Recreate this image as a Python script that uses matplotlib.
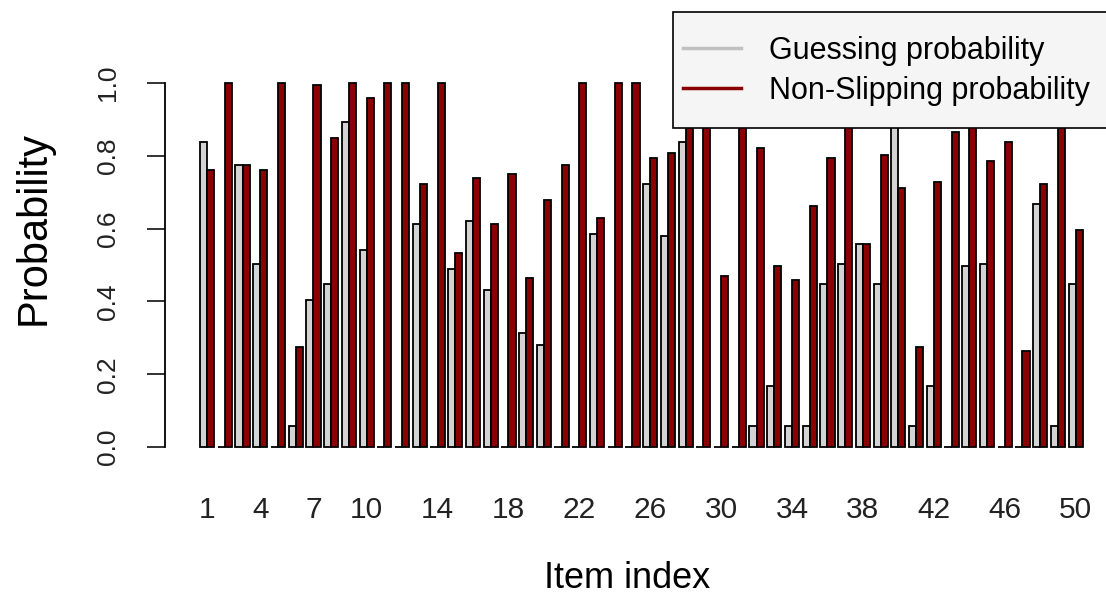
""" Item parameters plot

Guessing and non-slipping probability for each of the 50 items

"""

import numpy as np
from matplotlib import pyplot as plt
from matplotlib.lines import Line2D
from matplotlib.patches import Rectangle

plt.rc('font', family='Liberation Sans')

# Values read per item (1..50)
items = np.arange(1, 51)
guessing = [0.837, 0.0, 0.775, 0.504, 0.0, 0.058, 0.405, 0.449, 0.893, 0.540,
            0.0, 0.0, 0.613, 0.0, 0.488, 0.622, 0.432, 0.0, 0.312, 0.281,
            0.0, 0.0, 0.585, 0.0, 0.0, 0.723, 0.579, 0.837, 0.0, 0.0,
            0.0, 0.058, 0.169, 0.058, 0.058, 0.449, 0.504, 0.557, 0.449, 0.94,
            0.058, 0.169, 0.0, 0.498, 0.504, 0.0, 0.0, 0.668, 0.058, 0.449]
non_slipping = [0.760, 1.0, 0.775, 0.760, 1.0, 0.276, 0.994, 0.848, 1.0, 0.959,
                1.0, 1.0, 0.723, 1.0, 0.534, 0.740, 0.612, 0.750, 0.465, 0.678,
                0.776, 1.0, 0.628, 1.0, 1.0, 0.793, 0.809, 0.93, 1.0, 0.470,
                1.0, 0.820, 0.498, 0.460, 0.663, 0.793, 0.97, 0.557, 0.803, 0.712,
                0.276, 0.729, 0.865, 0.95, 0.787, 0.837, 0.264, 0.723, 1.0, 0.595]
shown_labels = [1, 4, 7, 10, 14, 18, 22, 26, 30, 34, 38, 42, 46, 50]
legend_labels = ['Guessing probability', 'Non-Slipping probability']

W, H = 1106, 597
fig = plt.figure(figsize=(W / 100, H / 100), dpi=100)

# R barplot layout: two bars of width 1 per item, 0.5 space between items
left_px, right_px = 164.7, 1118.0
top_px, bottom_px = 68.4, 461.6
ax = fig.add_axes([left_px / W, 1 - bottom_px / H,
                   (right_px - left_px) / W, (bottom_px - top_px) / H])

group = 0.5 + 2.5 * (items - 1)
ax.bar(group, guessing, width=1.0, align='edge', color='#d3d3d3',
       edgecolor='black', linewidth=1.3)
ax.bar(group + 1.0, non_slipping, width=1.0, align='edge', color='#8b0000',
       edgecolor='black', linewidth=1.3)

ax.set_xlim(-4.48, 129.98)
ax.set_ylim(-0.04, 1.04)

for side in ['top', 'right', 'bottom']:
    ax.spines[side].set_visible(False)
ax.spines['left'].set_bounds(0, 1)
ax.spines['left'].set_linewidth(1.3)

ax.set_yticks(np.arange(0, 1.01, 0.2))
ax.set_yticklabels(['%.1f' % v for v in np.arange(0, 1.01, 0.2)],
                   rotation=90, va='center')
ax.tick_params(axis='y', length=13, width=1.3, pad=19, labelsize=19,
               colors='#222222', labelcolor='#222222')

ax.set_xticks(group[np.array(shown_labels) - 1] + 1.0)
ax.set_xticklabels([str(v) for v in shown_labels])
ax.tick_params(axis='x', length=0, pad=24.5, labelsize=21.5,
               labelcolor='#222222')

fig.text(45 / W, 1 - 228 / H, 'Probability', rotation=90, fontsize=30,
         ha='center', va='baseline', rotation_mode='anchor')
fig.text(627 / W, 1 - 596 / H, 'Item index', fontsize=26,
         ha='center', va='bottom')

# Legend box hanging over the top right, cut by the figure edge
box = Rectangle((673 / W, 1 - 128 / H), (1115 - 673) / W, (128 - 12) / H,
                transform=fig.transFigure, facecolor='#f5f5f5',
                edgecolor='black', linewidth=1.2, zorder=4)
fig.patches.append(box)
handles = [Line2D([], [], color='#c0c0c0', lw=2.5),
           Line2D([], [], color='#8b0000', lw=2.5)]
leg = fig.legend(handles, legend_labels, loc='upper left',
                 bbox_to_anchor=(683 / W, 1 - 36 / H), frameon=False,
                 borderpad=0, borderaxespad=0, handlelength=1.9,
                 handletextpad=0.9, labelspacing=0.32, fontsize=22)
leg.set_zorder(5)

fig.savefig('out.png', dpi=100)
